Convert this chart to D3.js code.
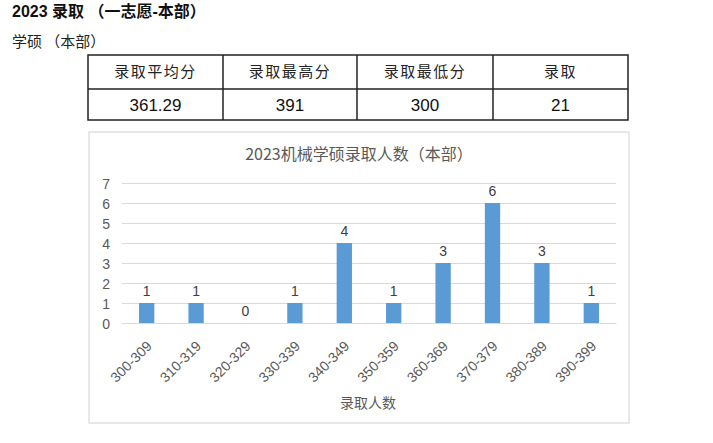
<!DOCTYPE html>
<html>
<head>
<meta charset="utf-8">
<script src="https://cdn.jsdelivr.net/npm/d3@7/dist/d3.min.js"></script>
<style>
  html, body { margin: 0; padding: 0; background: #fff; }
  svg { display: block; }
</style>
</head>
<body>
<svg id="page" width="713" height="443"></svg>
<script>
// Summary table
const tableHeaders = ["录取平均分", "录取最高分", "录取最低分", "录取"];
const tableValues = ["361.29", "391", "300", "21"];

// Score bands and admitted counts
const categories = ["300-309", "310-319", "320-329", "330-339", "340-349",
                    "350-359", "360-369", "370-379", "380-389", "390-399"];
const counts = [1, 1, 0, 1, 4, 1, 3, 6, 3, 1];
const yTicks = [0, 1, 2, 3, 4, 5, 6, 7];

const svg = d3.select("#page");
const cjk = "'Noto Sans CJK SC', 'Noto Sans', sans-serif";
const latin = "'Liberation Sans', Arial, 'Noto Sans CJK SC', sans-serif";

// Page headings
svg.append("text")
  .attr("x", 12).attr("y", 17)
  .attr("font-family", latin).attr("font-weight", "bold").attr("font-size", 16)
  .attr("fill", "#111")
  .text("2023 录取 （一志愿-本部）");

svg.append("text")
  .attr("x", 12).attr("y", 47)
  .attr("font-family", cjk).attr("font-size", 15)
  .attr("fill", "#222")
  .text("学硕 （本部）");

// Table
const colEdges = [88, 223, 357, 493, 628];
const rowEdges = [55, 89, 120];
const tbl = svg.append("g");
tbl.append("rect")
  .attr("x", colEdges[0]).attr("y", rowEdges[0])
  .attr("width", colEdges[4] - colEdges[0]).attr("height", rowEdges[2] - rowEdges[0])
  .attr("fill", "none").attr("stroke", "#222").attr("stroke-width", 1.5);
tbl.append("line")
  .attr("x1", colEdges[0]).attr("x2", colEdges[4])
  .attr("y1", rowEdges[1]).attr("y2", rowEdges[1])
  .attr("stroke", "#222").attr("stroke-width", 1.5);
colEdges.slice(1, 4).forEach(x => {
  tbl.append("line")
    .attr("x1", x).attr("x2", x).attr("y1", rowEdges[0]).attr("y2", rowEdges[2])
    .attr("stroke", "#222").attr("stroke-width", 1.5);
});
tableHeaders.forEach((h, i) => {
  tbl.append("text")
    .attr("x", (colEdges[i] + colEdges[i + 1]) / 2).attr("y", 77)
    .attr("text-anchor", "middle")
    .attr("font-family", cjk).attr("font-size", 15).attr("letter-spacing", 1.5)
    .attr("fill", "#222")
    .text(h);
});
tableValues.forEach((v, i) => {
  tbl.append("text")
    .attr("x", (colEdges[i] + colEdges[i + 1]) / 2).attr("y", 111)
    .attr("text-anchor", "middle")
    .attr("font-family", latin).attr("font-size", 17).attr("fill", "#111")
    .text(v);
});

// Chart frame
const frame = { x: 89, y: 132, w: 540, h: 291 };
svg.append("rect")
  .attr("x", frame.x).attr("y", frame.y).attr("width", frame.w).attr("height", frame.h)
  .attr("fill", "#fff").attr("stroke", "#d9d9d9").attr("stroke-width", 1.2);

svg.append("text")
  .attr("x", frame.x + frame.w / 2).attr("y", 160)
  .attr("text-anchor", "middle")
  .attr("font-family", cjk).attr("font-size", 16).attr("fill", "#595959")
  .text("2023机械学硕录取人数（本部）");

const plot = { left: 122, right: 616, top: 183, bottom: 323 };
const x = d3.scaleBand().domain(categories).range([plot.left, plot.right]).paddingInner(0.69).paddingOuter(0.345);
const y = d3.scaleLinear().domain([0, 7]).range([plot.bottom, plot.top]);

// Gridlines and y labels
const yAxis = d3.axisLeft(y).tickValues(yTicks).tickFormat(d3.format("d")).tickSize(0).tickPadding(12);
const gy = svg.append("g").attr("transform", `translate(${plot.left},0)`).call(yAxis);
gy.select(".domain").remove();
gy.selectAll(".tick line")
  .attr("stroke", "#d9d9d9").attr("stroke-width", 1)
  .attr("x1", 0).attr("x2", plot.right - plot.left);
gy.selectAll(".tick text")
  .attr("font-family", latin).attr("font-size", 14).attr("fill", "#595959")
  .attr("dy", "0.36em");

// Bars
svg.append("g").selectAll("rect").data(counts).join("rect")
  .attr("x", (d, i) => x(categories[i]))
  .attr("y", d => y(d))
  .attr("width", x.bandwidth())
  .attr("height", d => y(0) - y(d))
  .attr("fill", "#5b9bd5");

// Value labels
svg.append("g").selectAll("text").data(counts).join("text")
  .attr("x", (d, i) => x(categories[i]) + x.bandwidth() / 2)
  .attr("y", d => y(d) - 7)
  .attr("text-anchor", "middle")
  .attr("font-family", latin).attr("font-size", 14).attr("fill", "#404040")
  .text(d => d);

// Category axis
const xAxis = d3.axisBottom(x).tickSize(0).tickPadding(0);
const gx = svg.append("g").attr("transform", `translate(0,${plot.bottom})`).call(xAxis);
gx.select(".domain").attr("stroke", "#d9d9d9");
gx.selectAll(".tick text")
  .attr("font-family", latin).attr("font-size", 14).attr("fill", "#595959")
  .attr("text-anchor", "end")
  .attr("dy", null)
  .attr("transform", "translate(6,24) rotate(-45)");

svg.append("text")
  .attr("x", 368).attr("y", 408)
  .attr("text-anchor", "middle")
  .attr("font-family", cjk).attr("font-size", 14).attr("fill", "#595959")
  .text("录取人数");
</script>
</body>
</html>
